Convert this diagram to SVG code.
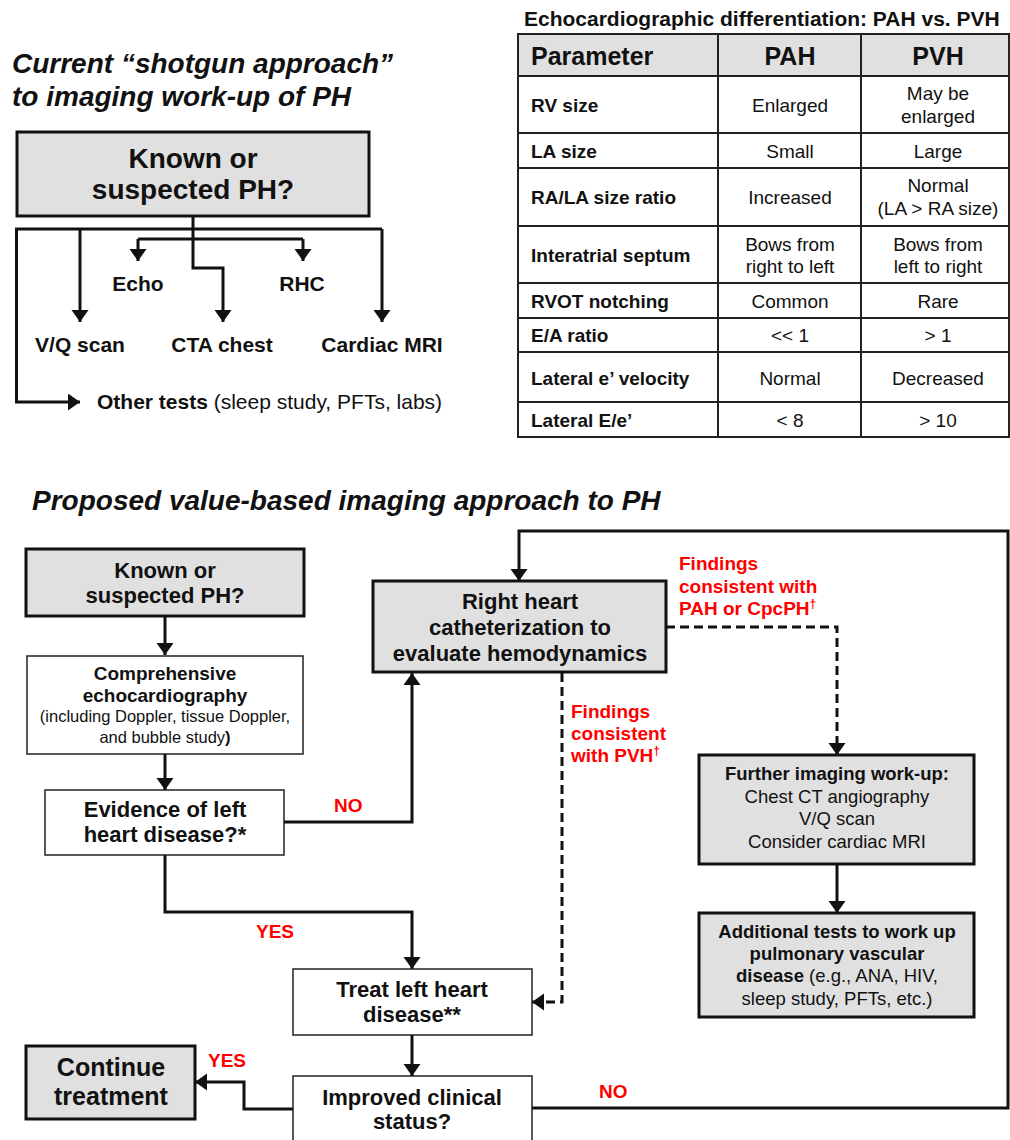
<svg xmlns="http://www.w3.org/2000/svg" width="1010" height="1140" viewBox="0 0 1010 1140">
<style>
text{font-family:"Liberation Sans",Arial,sans-serif;fill:#111}
.b{font-weight:bold}
.t{font-weight:bold;font-style:italic;font-size:28px}
.c{text-anchor:middle}
.red{fill:#f00;font-weight:bold;font-size:19px}
.gbox{fill:#e0e0e0;stroke:#111;stroke-width:3}
.wbox{fill:#fff;stroke:#222;stroke-width:1.5}
.ln{fill:none;stroke:#111;stroke-width:3}
.dash{fill:none;stroke:#111;stroke-width:3;stroke-dasharray:9 5}
.tl{fill:none;stroke:#222;stroke-width:2}
.s21{font-size:21px}
.s22{font-size:22px}
.s19{font-size:19px}
</style>
<defs>
<marker id="ah" markerUnits="userSpaceOnUse" markerWidth="18" markerHeight="18" refX="12" refY="8.5" orient="auto" viewBox="0 0 18 18">
<path d="M0,0 L12,8.5 L0,17 z" fill="#111"/>
</marker>
</defs>
<rect width="1010" height="1140" fill="#fff"/>

<!-- Top-left shotgun approach -->
<text class="t" x="12" y="73">Current “shotgun approach”</text>
<text class="t" x="12" y="106">to imaging work-up of PH</text>

<g id="top-known">
<rect class="gbox" x="17" y="132" width="352" height="84"/>
<text class="b c" x="193" y="168" font-size="28">Known or</text>
<text class="b c" x="193" y="199" font-size="28">suspected PH?</text>
</g>
<g id="top-echo"><text class="b c s21" x="138" y="291">Echo</text></g>
<g id="top-rhc"><text class="b c s21" x="302" y="291">RHC</text></g>
<g id="top-vq"><text class="b c s21" x="80" y="352">V/Q scan</text></g>
<g id="top-cta"><text class="b c s21" x="222" y="352">CTA chest</text></g>
<g id="top-mri"><text class="b c s21" x="382" y="352">Cardiac MRI</text></g>
<g id="top-other"><text class="s21" x="97" y="409"><tspan class="b">Other tests</tspan> (sleep study, PFTs, labs)</text></g>

<g id="top-connectors">
<path class="ln" d="M193,216 V268 H223 V322" marker-end="url(#ah)"/>
<path class="ln" d="M15,229 H382"/>
<path class="ln" d="M80,229 V322" marker-end="url(#ah)"/>
<path class="ln" d="M382,229 V322" marker-end="url(#ah)"/>
<path class="ln" d="M16.5,229 V402 H80" marker-end="url(#ah)"/>
<path class="ln" d="M138,239 H303"/>
<path class="ln" d="M138,239 V261" marker-end="url(#ah)"/>
<path class="ln" d="M303,239 V261" marker-end="url(#ah)"/>
</g>

<!-- Table -->
<g id="table">
<text class="b" x="524" y="26" font-size="21">Echocardiographic differentiation: PAH vs. PVH</text>
<rect x="518" y="34" width="491" height="42" fill="#e0e0e0"/>
<rect class="tl" x="518" y="34" width="491" height="403"/>
<path class="tl" d="M718,34 V437 M861,34 V437 M518,76 H1009 M518,133 H1009 M518,168 H1009 M518,226 H1009 M518,283 H1009 M518,318 H1009 M518,352 H1009 M518,402 H1009"/>
<text class="b" x="531" y="65" font-size="25">Parameter</text>
<text class="b c" x="790" y="65" font-size="25">PAH</text>
<text class="b c" x="938" y="65" font-size="25">PVH</text>

<text class="b s19" x="531" y="112">RV size</text>
<text class="c s19" x="790" y="112">Enlarged</text>
<text class="c s19" x="938" y="100">May be</text>
<text class="c s19" x="938" y="123">enlarged</text>

<text class="b s19" x="531" y="158">LA size</text>
<text class="c s19" x="790" y="158">Small</text>
<text class="c s19" x="938" y="158">Large</text>

<text class="b s19" x="531" y="204">RA/LA size ratio</text>
<text class="c s19" x="790" y="204">Increased</text>
<text class="c s19" x="938" y="192">Normal</text>
<text class="c s19" x="938" y="215">(LA &gt; RA size)</text>

<text class="b s19" x="531" y="262">Interatrial septum</text>
<text class="c s19" x="790" y="251">Bows from</text>
<text class="c s19" x="790" y="273">right to left</text>
<text class="c s19" x="938" y="251">Bows from</text>
<text class="c s19" x="938" y="273">left to right</text>

<text class="b s19" x="531" y="308">RVOT notching</text>
<text class="c s19" x="790" y="308">Common</text>
<text class="c s19" x="938" y="308">Rare</text>

<text class="b s19" x="531" y="342">E/A ratio</text>
<text class="c s19" x="790" y="342">&lt;&lt; 1</text>
<text class="c s19" x="938" y="342">&gt; 1</text>

<text class="b s19" x="531" y="385">Lateral e’ velocity</text>
<text class="c s19" x="790" y="385">Normal</text>
<text class="c s19" x="938" y="385">Decreased</text>

<text class="b s19" x="531" y="427">Lateral E/e’</text>
<text class="c s19" x="790" y="427">&lt; 8</text>
<text class="c s19" x="938" y="427">&gt; 10</text>
</g>

<!-- Bottom flowchart -->
<text class="t" x="32" y="510">Proposed value-based imaging approach to PH</text>

<g id="known">
<rect class="gbox" x="26" y="549" width="278" height="67"/>
<text class="b c s22" x="165" y="578">Known or</text>
<text class="b c s22" x="165" y="603">suspected PH?</text>
</g>
<g id="echo">
<rect class="wbox" x="27" y="656" width="276" height="98"/>
<text class="b c" x="165" y="680" font-size="19">Comprehensive</text>
<text class="b c" x="165" y="702" font-size="19">echocardiography</text>
<text class="c" x="165" y="722" font-size="16.5">(including Doppler, tissue Doppler,</text>
<text class="c" x="165" y="743" font-size="16.5">and bubble study<tspan class="b">)</tspan></text>
</g>
<g id="evidence">
<rect class="wbox" x="45" y="790" width="239" height="65"/>
<text class="b c s22" x="165" y="817">Evidence of left</text>
<text class="b c s22" x="165" y="842">heart disease?*</text>
</g>
<g id="rhc">
<rect class="gbox" x="373" y="581" width="293" height="91"/>
<text class="b c s22" x="520" y="609">Right heart</text>
<text class="b c s22" x="520" y="635">catheterization to</text>
<text class="b c s22" x="520" y="661">evaluate hemodynamics</text>
</g>
<g id="further">
<rect class="gbox" x="699" y="755" width="275" height="109"/>
<text class="b c" x="837" y="780" font-size="18.5">Further imaging work-up:</text>
<text class="c" x="837" y="803" font-size="18.5">Chest CT angiography</text>
<text class="c" x="837" y="825" font-size="18.5">V/Q scan</text>
<text class="c" x="837" y="848" font-size="18.5">Consider cardiac MRI</text>
</g>
<g id="additional">
<rect class="gbox" x="699" y="913" width="275" height="104"/>
<text class="b c" x="837" y="938" font-size="18.5">Additional tests to work up</text>
<text class="b c" x="837" y="960" font-size="18.5">pulmonary vascular</text>
<text class="c" x="837" y="982" font-size="18.5"><tspan class="b">disease</tspan> (e.g., ANA, HIV,</text>
<text class="c" x="837" y="1005" font-size="18.5">sleep study, PFTs, etc.)</text>
</g>
<g id="treat">
<rect class="wbox" x="293" y="969" width="239" height="66"/>
<text class="b c s22" x="412" y="997">Treat left heart</text>
<text class="b c s22" x="412" y="1022">disease**</text>
</g>
<g id="improved">
<rect class="wbox" x="293" y="1076" width="239" height="70"/>
<text class="b c s22" x="412" y="1105">Improved clinical</text>
<text class="b c s22" x="412" y="1129">status?</text>
</g>
<g id="continue">
<rect class="gbox" x="26" y="1046" width="169" height="73"/>
<text class="b c" x="111" y="1076" font-size="25">Continue</text>
<text class="b c" x="111" y="1105" font-size="25">treatment</text>
</g>

<g id="connectors">
<path class="ln" d="M165,616 V655" marker-end="url(#ah)"/>
<path class="ln" d="M165,754 V790" marker-end="url(#ah)"/>
<path class="ln" d="M284,822 H412 V673" marker-end="url(#ah)"/>
<path class="ln" d="M165,855 V912 H412 V969" marker-end="url(#ah)"/>
<path class="ln" d="M412,1035 V1076" marker-end="url(#ah)"/>
<path class="ln" d="M293,1109 H244 V1082 H195" marker-end="url(#ah)"/>
<path class="ln" d="M532,1108 H1008 V531 H519 V581" marker-end="url(#ah)"/>
<path class="dash" d="M666,627 H837 V755" marker-end="url(#ah)"/>
<path class="dash" d="M562,673 V1002 H532" marker-end="url(#ah)"/>
<path class="ln" d="M837,864 V913" marker-end="url(#ah)"/>
</g>

<g id="labels">
<text class="red" x="334" y="812">NO</text>
<text class="red" x="256" y="938">YES</text>
<text class="red" x="208" y="1067">YES</text>
<text class="red" x="599" y="1098">NO</text>
<text class="red" x="679" y="570">Findings</text>
<text class="red" x="679" y="593">consistent with</text>
<text class="red" x="679" y="615">PAH or CpcPH<tspan font-size="12" dy="-7">†</tspan></text>
<text class="red" x="571" y="718">Findings</text>
<text class="red" x="571" y="740">consistent</text>
<text class="red" x="571" y="762">with PVH<tspan font-size="12" dy="-7">†</tspan></text>
</g>
</svg>
